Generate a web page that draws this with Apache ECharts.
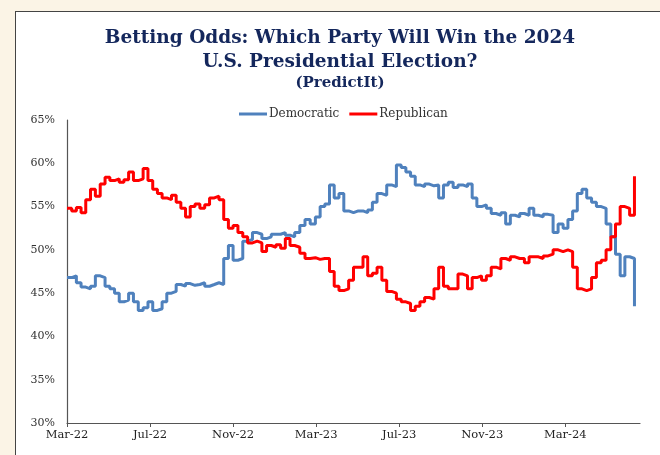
<!DOCTYPE html>
<html><head><meta charset="utf-8">
<script src="https://cdn.jsdelivr.net/npm/echarts@6/dist/echarts.min.js"></script>
<style>
html,body{margin:0;padding:0;background:#fbf4e6;width:660px;height:455px;overflow:hidden;}
#frame{position:absolute;left:15px;top:11px;width:700px;height:500px;background:#fff;border:1.5px solid #444;}
#chart{position:absolute;left:0;top:0;width:660px;height:455px;}
</style></head>
<body><div id="frame"></div><div id="chart"></div>
<script>
// Weekly observations starting at this date
const startDate = '2022-03-01';
const titleLines = ['Betting Odds: Which Party Will Win the 2024', 'U.S. Presidential Election?'];
const subTitle = '(PredictIt)';
const tickLabels = ['Mar-22','Jul-22','Nov-22','Mar-23','Jul-23','Nov-23','Mar-24'];
const democratic = [
 46.8,47.0,46.2,45.7,45.5,45.8,47.0,46.8,45.8,45.5,
 45.0,44.0,44.2,45.0,44.0,43.0,43.3,44.0,43.0,43.2,
 44.0,45.0,45.2,46.0,45.8,46.1,45.9,46.0,46.2,45.8,
 46.0,46.2,46.0,49.0,50.5,48.8,49.0,51.0,51.2,52.0,
 51.8,51.3,51.5,51.8,51.8,52.0,51.7,51.5,52.0,52.8,
 53.5,53.0,53.8,55.0,55.3,57.5,56.0,56.5,54.5,54.3,
 54.5,54.5,54.3,54.6,55.5,56.5,56.3,57.5,57.3,59.8,
 59.5,59.0,58.5,57.5,57.3,57.6,57.4,57.5,56.0,57.5,
 57.8,57.2,57.5,57.3,57.6,56.0,55.0,55.2,54.8,54.2,
 54.0,54.3,53.0,54.0,53.8,54.2,54.0,54.8,54.0,53.8,
 54.1,54.0,52.0,53.0,52.5,53.5,54.5,56.5,57.0,56.0,
 55.5,55.0,54.8,53.0,51.5,49.5,47.0,49.2,49.0,43.5
];
const republican = [
 54.8,54.5,54.9,54.3,55.8,57.0,56.2,57.6,58.4,58.0,
 58.2,57.8,58.1,59.0,58.0,58.2,59.4,58.0,57.0,56.5,
 56.0,55.8,56.3,55.5,54.8,53.8,55.0,55.3,54.8,55.2,
 56.0,56.2,55.8,53.5,52.5,52.8,52.0,51.5,50.8,51.0,
 50.8,49.8,50.5,50.3,50.6,50.2,51.3,50.5,50.3,49.6,
 49.0,49.1,48.9,49.0,49.0,47.5,45.8,45.3,45.5,46.5,
 48.0,48.0,49.2,47.0,47.3,48.0,46.5,45.2,45.0,44.3,
 44.0,43.8,43.0,43.5,44.0,44.5,44.3,45.5,48.0,45.8,
 45.5,45.5,47.2,47.0,45.5,46.8,47.0,46.5,47.0,48.0,
 47.8,49.0,48.8,49.2,49.0,49.0,48.5,49.2,49.2,49.0,
 49.3,49.5,50.0,49.8,50.0,49.8,48.0,45.5,45.3,45.5,
 46.8,48.5,48.8,50.0,51.5,53.0,55.0,54.8,54.0,58.5
];

function weekDates(start, n){
  const out=[]; const d=new Date(start+'T00:00:00Z');
  for(let i=0;i<n;i++){ const t=new Date(d.getTime()+i*7*86400000); out.push(t.toISOString().slice(0,10)); }
  return out;
}
const dates = weekDates(startDate, democratic.length);
function monthIndex(s){
  const [y,m,dd]=s.split('-').map(Number);
  const dim=new Date(Date.UTC(y,m,0)).getUTCDate();
  return (y-2022)*12+(m-3)+(dd-1)/dim;
}
const demData = dates.map((d,i)=>[monthIndex(d), democratic[i]]);
const repData = dates.map((d,i)=>[monthIndex(d), republican[i]]);

const serif = '"DejaVu Serif", "Liberation Serif", serif';
const navy = '#14275c';
const chart = echarts.init(document.getElementById('chart'), null, {renderer:'canvas'});
chart.setOption({
  backgroundColor:'transparent',
  animation:false,
  graphic:[
    {type:'text', x:340, y:38, style:{text:titleLines[0], font:'bold 18.5px '+serif, fill:navy, textAlign:'center', textVerticalAlign:'middle'}},
    {type:'text', x:340, y:62, style:{text:titleLines[1], font:'bold 18.5px '+serif, fill:navy, textAlign:'center', textVerticalAlign:'middle'}},
    {type:'text', x:340, y:83, style:{text:subTitle, font:'bold 15px '+serif, fill:navy, textAlign:'center', textVerticalAlign:'middle'}}
  ],
  legend:{top:103, left:234, itemWidth:28, itemHeight:3, itemGap:10, icon:'rect',
    textStyle:{fontFamily:serif, fontSize:12, color:'#333', padding:[0,0,0,-3]},
    data:['Democratic','Republican']},
  grid:{left:67, right:20, top:120, bottom:32},
  xAxis:{type:'value', min:0, max:27.6, interval:4,
    axisLine:{lineStyle:{color:'#555', width:1.2}},
    axisTick:{show:true, length:4, lineStyle:{color:'#555'}},
    splitLine:{show:false},
    axisLabel:{showMaxLabel:false, margin:6, fontFamily:serif, fontSize:11.5, color:'#222',
      formatter:v=>{const k=Math.round(v/4); return Math.abs(v-k*4)<1e-6 && k<tickLabels.length ? tickLabels[k] : '';}}},
  yAxis:{type:'value', min:30, max:65, interval:5,
    axisLine:{show:true, lineStyle:{color:'#555', width:1.2}},
    axisTick:{show:false}, splitLine:{show:false},
    axisLabel:{margin:12, fontFamily:serif, fontSize:11, color:'#333', formatter:v=>v+'%'}},
  series:[
    {name:'Democratic', type:'line', data:demData, step:'end', showSymbol:false,
     lineStyle:{color:'#4f81bd', width:3}, itemStyle:{color:'#4f81bd'}},
    {name:'Republican', type:'line', data:repData, step:'end', showSymbol:false,
     lineStyle:{color:'#ff0000', width:3}, itemStyle:{color:'#ff0000'}}
  ]
});
</script></body></html>
